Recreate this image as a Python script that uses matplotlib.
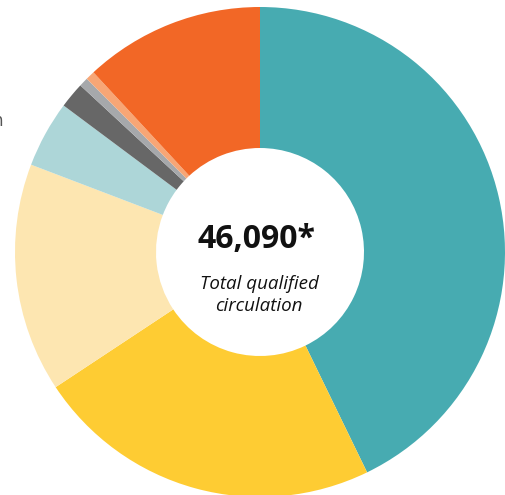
import matplotlib.pyplot as plt

# Shares of total qualified circulation (percent), clockwise from 12 o'clock
shares = [42.8, 22.9, 15.1, 4.4, 1.7, 0.6, 0.6, 11.9]
colors = ["#47ABB1", "#FECC33", "#FDE6B1", "#ADD6D8",
          "#676767", "#A6A8AB", "#F7A676", "#F26726"]
total_label = "46,090*"
sub_label = "Total qualified\ncirculation"

W, H = 505, 495
CX, CY = 260, 252      # donut centre, pixels from top-left
R_OUT, R_IN = 245, 104

fig = plt.figure(figsize=(W / 100, H / 100), dpi=100)
ax = fig.add_axes([0, 0, 1, 1])

ax.pie(
    shares, colors=colors, radius=R_OUT, startangle=90, counterclock=False,
    wedgeprops=dict(width=R_OUT - R_IN, linewidth=0, antialiased=True),
    normalize=True,
)
ax.set_xlim(-CX, W - CX)
ax.set_ylim(-(H - CY), CY)
ax.set_aspect("auto")
ax.axis("off")

ax.text(-3, 12, total_label, ha="center", va="center",
        fontsize=23, fontweight="bold", family="Open Sans", color="#111111")
ax.text(-1, -43, sub_label, ha="center", va="center", fontsize=13.5,
        style="italic", family="Open Sans", color="#111111", linespacing=1.25)

# clipped label at the far left edge
fig.text(2.5 / W, 1 - 121 / H, "n", ha="right", va="center",
         fontsize=12, color="#555555")

fig.savefig("out.png", dpi=100)
